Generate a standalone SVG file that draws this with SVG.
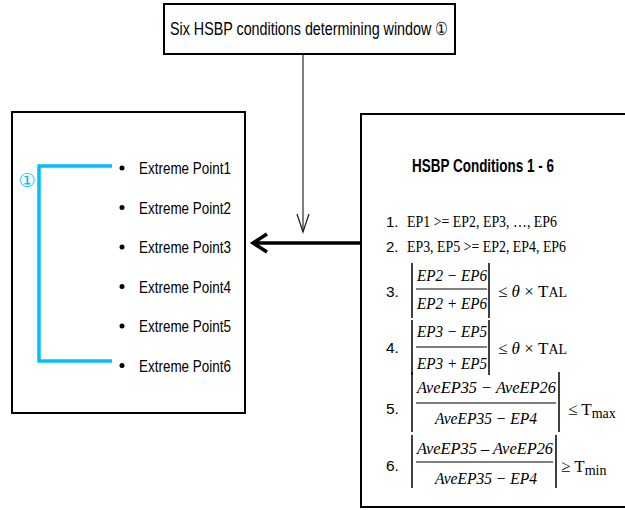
<svg xmlns="http://www.w3.org/2000/svg" width="625" height="510" viewBox="0 0 625 510">
<style>
.box{fill:#fff;stroke:#000;stroke-width:2}
.cal{font-family:"Liberation Sans",Arial,sans-serif;fill:#000}
.tm{font-family:"Liberation Serif","Times New Roman",serif;fill:#000}
.mi{font-family:"Liberation Serif","Times New Roman",serif;font-style:italic;fill:#000}
.bar{stroke:#000;stroke-width:1.5}
.blue{fill:none;stroke:#00BFFF;stroke-width:3.5}
</style>
<rect width="625" height="510" fill="#fff"/>
<g id="connectors">
<line x1="303" y1="55" x2="303" y2="232" stroke="#555" stroke-width="1.5"/>
<polyline points="297,214 303,232 309,214" fill="none" stroke="#222" stroke-width="1.3"/>
<line x1="361" y1="243" x2="254" y2="243" stroke="#000" stroke-width="3.5"/>
<polyline points="267,234 253,243 267,252" fill="none" stroke="#000" stroke-width="3.5" stroke-linejoin="miter"/>
</g>
<g id="node-top">
<rect class="box" x="164" y="4" width="291" height="50"/>
<text class="cal" x="170" y="35" font-size="18" textLength="278" lengthAdjust="spacingAndGlyphs">Six HSBP conditions determining window ①</text>
</g>
<g id="node-left">
<rect class="box" x="12" y="112" width="233" height="301"/>
<polyline class="blue" points="112,166 39,166 39,361 112,361"/>
<text x="27" y="187" font-family="'DejaVu Sans',sans-serif" font-size="19" fill="#00BFFF" text-anchor="middle">①</text>
<g class="cal" font-size="16.5">
<circle cx="122" cy="168" r="2.5"/><text x="139" y="174" textLength="92" lengthAdjust="spacingAndGlyphs">Extreme Point1</text>
<circle cx="122" cy="207.5" r="2.5"/><text x="139" y="213.5" textLength="92" lengthAdjust="spacingAndGlyphs">Extreme Point2</text>
<circle cx="122" cy="247" r="2.5"/><text x="139" y="253" textLength="92" lengthAdjust="spacingAndGlyphs">Extreme Point3</text>
<circle cx="122" cy="286.5" r="2.5"/><text x="139" y="292.5" textLength="92" lengthAdjust="spacingAndGlyphs">Extreme Point4</text>
<circle cx="122" cy="326" r="2.5"/><text x="139" y="332" textLength="92" lengthAdjust="spacingAndGlyphs">Extreme Point5</text>
<circle cx="122" cy="365.5" r="2.5"/><text x="139" y="371.5" textLength="92" lengthAdjust="spacingAndGlyphs">Extreme Point6</text>
</g>
</g>
<g id="node-right">
<rect class="box" x="361" y="114" width="270" height="393"/>
<text class="cal" x="412" y="172" font-size="18.5" font-weight="bold" textLength="142" lengthAdjust="spacingAndGlyphs">HSBP Conditions 1 - 6</text>
<text class="cal" x="386" y="227" font-size="15">1.</text>
<text class="tm" x="407" y="227" font-size="16" textLength="150" lengthAdjust="spacingAndGlyphs">EP1 &gt;= EP2, EP3, …, EP6</text>
<text class="cal" x="386" y="252" font-size="15">2.</text>
<text class="tm" x="407" y="252" font-size="16" textLength="159" lengthAdjust="spacingAndGlyphs">EP3, EP5 &gt;= EP2, EP4, EP6</text>
<!-- 3 -->
<text class="cal" x="386" y="297" font-size="15.5">3.</text>
<line class="bar" x1="412" y1="263" x2="412" y2="318"/>
<line class="bar" x1="489" y1="263" x2="489" y2="318"/>
<text class="mi" x="417" y="281" font-size="17.5" textLength="70" lengthAdjust="spacingAndGlyphs">EP2 − EP6</text>
<line x1="416" y1="289" x2="487" y2="289" stroke="#000" stroke-width="1"/>
<text class="mi" x="417" y="309" font-size="17.5" textLength="70" lengthAdjust="spacingAndGlyphs">EP2 + EP6</text>
<text class="tm" x="498" y="297" font-size="17">≤ <tspan font-style="italic">θ</tspan> × T<tspan font-size="14">AL</tspan></text>
<!-- 4 -->
<text class="cal" x="386" y="353" font-size="15.5">4.</text>
<line class="bar" x1="412" y1="320" x2="412" y2="375"/>
<line class="bar" x1="489" y1="320" x2="489" y2="375"/>
<text class="mi" x="417" y="337" font-size="17.5" textLength="70" lengthAdjust="spacingAndGlyphs">EP3 − EP5</text>
<line x1="416" y1="347" x2="487" y2="347" stroke="#000" stroke-width="1"/>
<text class="mi" x="417" y="369" font-size="17.5" textLength="70" lengthAdjust="spacingAndGlyphs">EP3 + EP5</text>
<text class="tm" x="498" y="354" font-size="17">≤ <tspan font-style="italic">θ</tspan> × T<tspan font-size="14">AL</tspan></text>
<!-- 5 -->
<text class="cal" x="386" y="414" font-size="15.5">5.</text>
<line class="bar" x1="412" y1="372" x2="412" y2="432"/>
<line class="bar" x1="559" y1="372" x2="559" y2="432"/>
<text class="mi" x="417" y="393" font-size="17.5" textLength="139" lengthAdjust="spacingAndGlyphs">AveEP35  − AveEP26</text>
<line x1="416" y1="403" x2="556" y2="403" stroke="#000" stroke-width="1"/>
<text class="mi" x="435" y="424" font-size="17.5" textLength="102" lengthAdjust="spacingAndGlyphs">AveEP35 −  EP4</text>
<text class="tm" x="568" y="415" font-size="17">≤ T<tspan font-size="14" dy="3">max</tspan></text>
<!-- 6 -->
<text class="cal" x="386" y="471" font-size="15.5">6.</text>
<line class="bar" x1="412" y1="435" x2="412" y2="488"/>
<line class="bar" x1="556" y1="435" x2="556" y2="488"/>
<text class="mi" x="417" y="454" font-size="17.5" textLength="136" lengthAdjust="spacingAndGlyphs">AveEP35 – AveEP26</text>
<line x1="416" y1="462" x2="553" y2="462" stroke="#000" stroke-width="1"/>
<text class="mi" x="435" y="484" font-size="17.5" textLength="102" lengthAdjust="spacingAndGlyphs">AveEP35 −  EP4</text>
<text class="tm" x="561" y="472" font-size="17">≥ T<tspan font-size="14" dy="3">min</tspan></text>
</g>
</svg>
